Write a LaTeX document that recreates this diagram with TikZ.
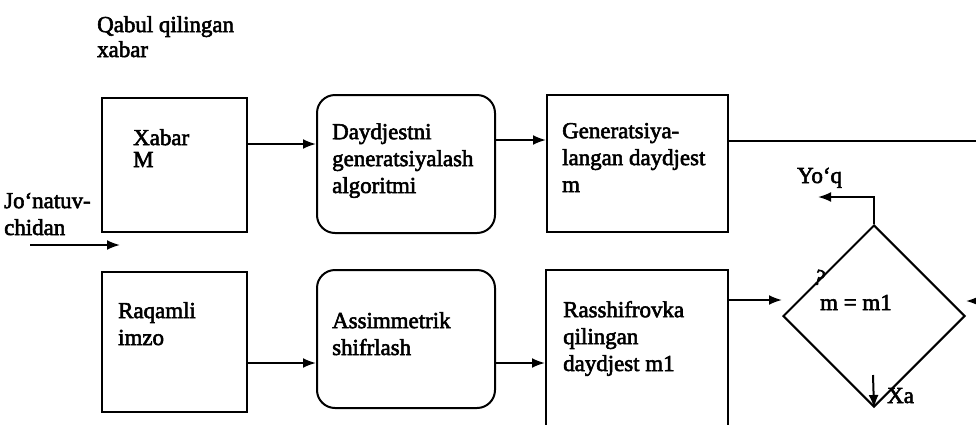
\documentclass[tikz,border=0pt]{standalone}
\usepackage{fontspec}
\setmainfont{Liberation Serif}[FakeBold=2.5]
\usetikzlibrary{arrows.meta,shapes.geometric}
\tikzset{
  box/.style={draw,line width=2bp,inner sep=0pt,minimum width=#1},
  rbox/.style={draw,line width=2bp,inner sep=0pt,rounded corners=18bp},
  txt/.style={anchor=base west,inner sep=0pt,align=left,font=\fontsize{23}{27}\selectfont},
  arr/.style={line width=2bp,-{Latex[length=13bp,width=10bp]}},
  ln/.style={line width=2bp},
}
\begin{document}
\begin{tikzpicture}[x=1bp,y=-1bp]
\path[use as bounding box] (0,0) rectangle (976,424);
\clip (0,0) rectangle (976,424);
% boxes
\node[box=145bp,minimum height=134bp] (b1) at (174.5,165) {};
\node[rbox,minimum width=178bp,minimum height=138bp] (b2) at (406,164) {};
\node[box=181bp,minimum height=137bp] (b3) at (637.5,163.5) {};
\node[box=145bp,minimum height=140bp] (b4) at (174.5,342) {};
\node[rbox,minimum width=178bp,minimum height=138bp] (b5) at (406,339) {};
\node[box=182bp,minimum height=180bp] (b6) at (637,360) {};
\node[draw,line width=2bp,shape=diamond,inner sep=0pt,minimum width=182bp,minimum height=182bp] (d) at (874,316) {};
% texts (anchor = baseline of last line)
\node[txt,font=\fontsize{23}{25}\selectfont] (tq) at (97,57) {Qabul qilingan\\xabar};
\node[txt,font=\fontsize{23}{22}\selectfont] (t1) at (133,167) {Xabar\\M};
\node[txt] (t2) at (332,193) {Daydjestni\\generatsiyalash\\algoritmi};
\node[txt] (t3) at (562,192) {Generatsiya-\\langan daydjest\\m};
\node[txt] (tj) at (4,235) {Jo‘natuv-\\chidan};
\node[txt] (t4) at (118,345) {Raqamli\\imzo};
\node[txt] (t5) at (332,355) {Assimmetrik\\shifrlash};
\node[txt] (t6) at (563,371) {Rasshifrovka\\qilingan\\daydjest m1};
\node[txt] (ty) at (797,183) {Yo‘q};
\node[txt] (tm) at (820,310) {m = m1};
\node[txt,rotate=-20] (tqm) at (812,283) {?};
\node[txt] (tx) at (887,403) {Xa};
% connectors
\draw[arr] (b1.east |- 0,144) -- (b2.west |- 0,144);
\draw[arr] (b2.east |- 0,140) -- (b3.west |- 0,140);
\coordinate (rout) at (990,141);
\draw[ln] (b3.east |- rout) -- (rout);
\draw[arr] (b4.east |- 0,363) -- (b5.west |- 0,363);
\draw[arr] (b5.east |- 0,363) -- (b6.west |- 0,363);
\coordinate (cin) at (30,245);
\coordinate (cin2) at (120,245);
\draw[arr] (cin) -- (cin2);
\draw[arr] (b6.east |- 0,300) -- (d.west |- 0,300);
\coordinate (rin) at (995,301);
\draw[arr] (rin) -- (d.east |- rin);
\coordinate (yq) at (818,197);
\draw[arr] (d.north) -- (d.north |- yq) -- (yq);
\coordinate (xa) at (873,375);
\draw[arr] (xa) -- (d.south);
\end{tikzpicture}
\end{document}
